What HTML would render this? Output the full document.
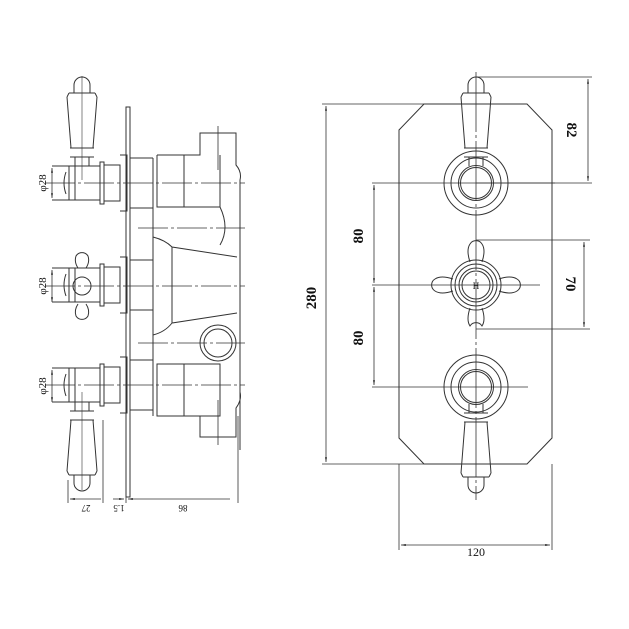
<!DOCTYPE html>
<html><head><meta charset="utf-8"><style>
html,body{margin:0;padding:0;background:#fff}
svg{display:block}
text{font-family:"Liberation Serif",serif;fill:#111}
</style></head><body>
<svg width="629" height="629" viewBox="0 0 629 629" xmlns="http://www.w3.org/2000/svg">
<defs>
<marker id="a" viewBox="0 0 10 10" refX="10" refY="5" markerWidth="6" markerHeight="6" orient="auto-start-reverse"><path d="M0,3 L10,5 L0,7z" fill="#222" stroke="none"/></marker>
</defs>
<g fill="none" stroke="#333" stroke-width="1">
<path d="M424,104 L527,104 L552,130 L552,438 L527,464 L424,464 L399,438 L399,130 Z"/>
<g transform="translate(476,183)">
<circle r="32"/><circle r="25"/><circle r="17.5"/><circle r="15.5"/>
<path d="M-8,-90 L-8,-98 A8,8 0 0 1 8,-98 L8,-90"/>
<line x1="-13" y1="-90" x2="13" y2="-90"/><line x1="-15" y1="-86" x2="-11" y2="-35"/><line x1="15" y1="-86" x2="11" y2="-35"/>
<line x1="-13" y1="-90" x2="-15" y2="-86"/><line x1="13" y1="-90" x2="15" y2="-86"/>
<line x1="-12" y1="-35" x2="12" y2="-35"/><line x1="-12" y1="-26" x2="12" y2="-26"/>
<line x1="-7" y1="-26" x2="-7" y2="-17"/><line x1="7" y1="-26" x2="7" y2="-17"/>
</g>
<g transform="translate(476,387) scale(1,-1)">
<circle r="32"/><circle r="25"/><circle r="17.5"/><circle r="15.5"/>
<path d="M-8,-90 L-8,-98 A8,8 0 0 1 8,-98 L8,-90"/>
<line x1="-13" y1="-90" x2="13" y2="-90"/><line x1="-15" y1="-86" x2="-11" y2="-35"/><line x1="15" y1="-86" x2="11" y2="-35"/>
<line x1="-13" y1="-90" x2="-15" y2="-86"/><line x1="13" y1="-90" x2="15" y2="-86"/>
<line x1="-12" y1="-35" x2="12" y2="-35"/><line x1="-12" y1="-26" x2="12" y2="-26"/>
<line x1="-7" y1="-26" x2="-7" y2="-17"/><line x1="7" y1="-26" x2="7" y2="-17"/>
</g>
<circle cx="476" cy="285" r="25"/><circle cx="476" cy="285" r="21"/><circle cx="476" cy="285" r="17"/><circle cx="476" cy="285" r="14"/>
<path d="M470,262 Q466,250 470,244 A7,7 0 0 1 482,244 Q486,250 482,262"/>
<path d="M470,308 Q466,320 470,326 A7,7 0 0 1 482,326 Q486,320 482,308"/>
<path d="M453,279 Q441,275 435,279 A7,7 0 0 0 435,291 Q441,295 453,291"/>
<path d="M499,279 Q511,275 517,279 A7,7 0 0 1 517,291 Q511,295 499,291"/>
<path d="M476,72 L476,500" stroke-width="0.8" stroke-dasharray="60,3,3,3"/>
<path d="M476,77 L592,77 M476,183 L592,183" stroke-width="0.8"/>
<path d="M588,79 L588,181" marker-start="url(#a)" marker-end="url(#a)" stroke-width="0.8"/>
<path d="M476,240 L590,240 M476,329 L590,329" stroke-width="0.8"/>
<path d="M584,242 L584,327" marker-start="url(#a)" marker-end="url(#a)" stroke-width="0.8"/>
<path d="M372,183 L555,183 M372,387 L528,387 M372,285 L540,285" stroke-width="0.8"/>
<path d="M374,185 L374,283" marker-start="url(#a)" marker-end="url(#a)" stroke-width="0.8"/>
<path d="M374,287 L374,385" marker-start="url(#a)" marker-end="url(#a)" stroke-width="0.8"/>
<path d="M322,104 L424,104 M322,464 L424,464" stroke-width="0.8"/>
<path d="M326,106 L326,462" marker-start="url(#a)" marker-end="url(#a)" stroke-width="0.8"/>
<path d="M399,464 L399,550 M552,464 L552,550" stroke-width="0.8"/>
<path d="M401,545 L550,545" marker-start="url(#a)" marker-end="url(#a)" stroke-width="0.8"/>

<path d="M126,107 L130,107 L130,497 L126,497 Z"/>
<path d="M153,158 L153,416"/>
<g>
<path d="M52,166 L100,166 L100,200 L52,200 M69,166 L69,200 M75,166 L75,200"/>
<path d="M66,172 Q62,183 66,194"/>
<path d="M100,162 L104,162 L104,204 L100,204 Z M104,165 L120,165 L120,201 L104,201 M120,155 L127,155 L127,211 L120,211 M130,158 L153,158 M130,208 L153,208"/>
</g>
<g transform="translate(0,102)">
<path d="M52,166 L100,166 L100,200 L52,200 M69,166 L69,200 M75,166 L75,200"/>
<path d="M66,172 Q62,183 66,194"/>
<path d="M100,162 L104,162 L104,204 L100,204 Z M104,165 L120,165 L120,201 L104,201 M120,155 L127,155 L127,211 L120,211 M130,158 L153,158 M130,208 L153,208"/>
</g>
<g transform="translate(0,202)">
<path d="M52,166 L100,166 L100,200 L52,200 M69,166 L69,200 M75,166 L75,200"/>
<path d="M66,172 Q62,183 66,194"/>
<path d="M100,162 L104,162 L104,204 L100,204 Z M104,165 L120,165 L120,201 L104,201 M120,155 L127,155 L127,211 L120,211 M130,158 L153,158 M130,208 L153,208"/>
</g>
<g transform="translate(82,183)">
<path d="M-8,-90 L-8,-98 A8,8 0 0 1 8,-98 L8,-90"/>
<line x1="-13" y1="-90" x2="13" y2="-90"/><line x1="-15" y1="-86" x2="-11" y2="-35"/><line x1="15" y1="-86" x2="11" y2="-35"/>
<line x1="-13" y1="-90" x2="-15" y2="-86"/><line x1="13" y1="-90" x2="15" y2="-86"/>
<line x1="-12" y1="-35" x2="12" y2="-35"/><line x1="-12" y1="-26" x2="12" y2="-26"/>
<line x1="-7" y1="-26" x2="-7" y2="-17"/><line x1="7" y1="-26" x2="7" y2="-17"/>
</g>
<g transform="translate(82,385) scale(1,-1)">
<path d="M-8,-90 L-8,-98 A8,8 0 0 1 8,-98 L8,-90"/>
<line x1="-13" y1="-90" x2="13" y2="-90"/><line x1="-15" y1="-86" x2="-11" y2="-35"/><line x1="15" y1="-86" x2="11" y2="-35"/>
<line x1="-13" y1="-90" x2="-15" y2="-86"/><line x1="13" y1="-90" x2="15" y2="-86"/>
<line x1="-12" y1="-35" x2="12" y2="-35"/><line x1="-12" y1="-26" x2="12" y2="-26"/>
<line x1="-7" y1="-26" x2="-7" y2="-17"/><line x1="7" y1="-26" x2="7" y2="-17"/>
</g>
<circle cx="82" cy="286" r="9"/>
<path d="M78,268 Q74,262 76,256 A7,7 0 0 1 88,256 Q90,262 86,268"/>
<path d="M78,304 Q74,310 76,316 A7,7 0 0 0 88,316 Q90,310 86,304"/>
<path d="M157,155 L200,155 L200,133 L236,133 L236,165 Q242,172 240,180 L240,450"/>
<path d="M157,155 L157,207 L220,207 L220,155 M184,155 L184,207"/>
<path d="M220,207 Q230,228 220,245"/>
<path d="M153,237 Q165,240 172,247 L237,257 M172,247 L172,323 L237,313 M172,323 Q165,332 153,335"/>
<circle cx="218" cy="343" r="18"/><circle cx="218" cy="343" r="14"/>
<path d="M157,364 L157,416 L220,416 L220,364 Z M184,364 L184,416"/>
<path d="M200,416 L200,437 L236,437 L236,408 Q242,400 240,392"/>
<path d="M218,126 L218,170 M218,400 L218,445" stroke-width="0.8"/>
<path d="M45,183 L245,183 M45,286 L245,286 M45,385 L245,385 M138,228 L245,228 M138,343 L245,343" stroke-width="0.8" stroke-dasharray="30,3,3,3"/>
<path d="M82,76 L82,180 M82,392 L82,490" stroke-width="0.6"/>
<path d="M52,168 L52,198" marker-start="url(#a)" marker-end="url(#a)" stroke-width="0.8"/>
<path d="M52,270 L52,302" marker-start="url(#a)" marker-end="url(#a)" stroke-width="0.8"/>
<path d="M52,370 L52,402" marker-start="url(#a)" marker-end="url(#a)" stroke-width="0.8"/>
<path d="M68,480 L68,503 M103,420 L103,503 M238,416 L238,503 M126,497 L126,503" stroke-width="0.8"/>
<path d="M70,499 L101,499 M230,499 L128,499" marker-start="url(#a)" marker-end="url(#a)" stroke-width="0.8"/>
<path d="M113,499 L124,499" marker-end="url(#a)" stroke-width="0.8"/>
</g>
<g font-size="15" font-weight="bold">
<text transform="translate(363,236) rotate(-90)" text-anchor="middle">80</text>
<text transform="translate(363,338) rotate(-90)" text-anchor="middle">80</text>
<text transform="translate(316,298) rotate(-90)" text-anchor="middle">280</text>
<text transform="translate(567,130) rotate(90)" text-anchor="middle">82</text>
<text transform="translate(566,284) rotate(90)" text-anchor="middle">70</text>
</g>
<text x="476" y="556" font-size="12" text-anchor="middle">120</text>
<g font-size="11">
<text transform="translate(46,183) rotate(-90)" text-anchor="middle">φ28</text>
<text transform="translate(46,286) rotate(-90)" text-anchor="middle">φ28</text>
<text transform="translate(46,386) rotate(-90)" text-anchor="middle">φ28</text>
</g>
<g font-size="9">
<text transform="translate(86,505) rotate(180)" text-anchor="middle">27</text>
<text transform="translate(119,505) rotate(180)" text-anchor="middle">1.5</text>
<text transform="translate(183,505) rotate(180)" text-anchor="middle">86</text>
</g>
<text x="476" y="289" font-size="9" text-anchor="middle">H</text>
</svg>
</body></html>
